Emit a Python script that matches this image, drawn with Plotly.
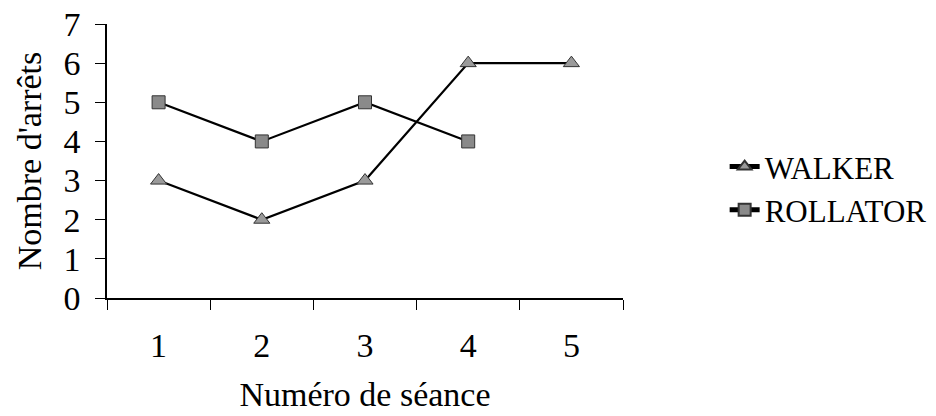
import plotly.graph_objects as go

seances = ["1", "2", "3", "4", "5"]
walker = [3, 2, 3, 6, 6]
rollator = [5, 4, 5, 4, None]

FONT = "Liberation Serif"
fig = go.Figure()
fig.add_trace(go.Scatter(
    x=seances, y=walker, name="WALKER", mode="lines+markers",
    line=dict(color="black", width=2.2),
    marker=dict(symbol="triangle-up", size=14, color="#9a9a9a",
                line=dict(color="#333333", width=1)),
))
fig.add_trace(go.Scatter(
    x=seances, y=rollator, name="ROLLATOR", mode="lines+markers",
    line=dict(color="black", width=2.2),
    marker=dict(symbol="square", size=13, color="#8a8a8a",
                line=dict(color="#333333", width=1)),
))

fig.update_layout(
    width=936, height=416,
    margin=dict(l=107, r=313, t=24, b=118, autoexpand=False),
    paper_bgcolor="white", plot_bgcolor="white",
    font=dict(family=FONT, size=34, color="black"),
    showlegend=True,
    legend=dict(x=1.197, y=0.40, xanchor="left", yanchor="middle",
                font=dict(family=FONT, size=31), tracegroupgap=2,
                itemsizing="constant", bgcolor="rgba(0,0,0,0)"),
    xaxis=dict(
        type="category", tickson="boundaries", range=[-0.5, 4.5],
        showline=True, linecolor="black", linewidth=1.5,
        ticks="outside", ticklen=10, tickwidth=1, tickcolor="black",
        showgrid=False, zeroline=False, ticklabelstandoff=16,
        title=dict(text="Numéro de séance", standoff=20,
                   font=dict(family=FONT, size=34)),
        automargin=False,
    ),
    yaxis=dict(
        range=[0, 7], tickvals=[0, 1, 2, 3, 4, 5, 6, 7],
        showline=True, linecolor="black", linewidth=1.5,
        ticks="outside", ticklen=10, tickwidth=1, tickcolor="black",
        showgrid=False, zeroline=False, ticklabelstandoff=8,
        title=dict(text="Nombre d'arrêts", standoff=12,
                   font=dict(family=FONT, size=34)),
        automargin=False,
    ),
)

fig.write_html("out.html")
